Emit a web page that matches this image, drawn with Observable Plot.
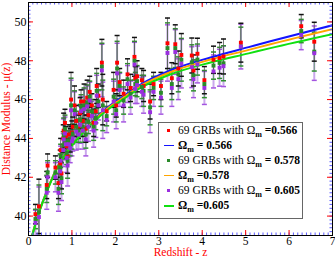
<!DOCTYPE html>
<html><head><meta charset="utf-8">
<script src="https://cdn.jsdelivr.net/npm/d3@7"></script>
<script src="https://cdn.jsdelivr.net/npm/@observablehq/plot@0.6"></script>
<style>
body{margin:0;background:#fff}
#wrap{position:relative;width:335px;height:258px;overflow:hidden}
#legend{position:absolute;left:158px;top:122px;width:145px;height:97px;border:1px solid #666;background:#fff;box-sizing:border-box;font-family:"Liberation Serif",serif;font-size:11.5px;color:#000}
#legend .row{position:absolute;left:0;height:13px;line-height:13px;white-space:nowrap}
#legend .mk{position:absolute;left:5px;width:10px;top:0;height:13px}
#legend .tx{position:absolute;left:19px;top:0}
#legend b{font-weight:bold}
#legend sub{font-size:8px;vertical-align:-3px;font-weight:bold;line-height:0}
</style></head>
<body><div id="wrap"></div>
<script>
// 69 GRBs: redshift and distance moduli for the three calibrations
const grbZ = [0.16,0.24,0.42,0.44,0.62,0.69,0.73,0.74,0.76,0.80,
0.81,0.84,0.86,0.88,0.90,0.93,0.96,0.98,1.00,1.02,
1.06,1.10,1.15,1.19,1.21,1.25,1.28,1.32,1.35,1.38,
1.41,1.46,1.50,1.55,1.57,1.61,1.69,1.71,1.80,1.96,
2.02,2.04,2.10,2.19,2.28,2.35,2.44,2.46,2.50,2.61,
2.65,2.80,2.88,3.05,3.20,3.30,3.38,3.45,3.52,3.76,
3.80,3.89,4.05,4.26,4.40,4.49,4.89,6.28,6.58];
const muRed = [40.1,40.5,41.6,42.6,42.5,41.7,42.7,43.4,42.2,44.0,
44.4,44.8,44.1,43.6,43.1,44.2,43.9,46.0,44.3,44.6,
45.7,44.9,44.6,45.3,45.9,44.9,45.9,44.5,46.1,45.2,
46.4,45.7,44.8,45.4,46.7,46.2,47.9,46.0,45.4,46.5,
45.7,47.9,46.9,46.3,47.3,46.6,48.2,47.1,47.2,47.0,
46.7,45.9,46.8,46.7,48.9,47.1,48.85,47.6,48.3,48.27,
47.5,48.36,47.0,48.05,48.14,48.22,48.93,49.78,48.98];
const errRed = [0.5,1.4,0.7,0.6,0.6,0.8,0.7,0.6,0.8,0.7,
0.9,0.7,0.5,0.6,0.9,0.5,0.6,1.4,0.6,0.5,
1.0,0.8,0.6,0.8,0.6,0.8,0.9,0.7,0.9,0.6,
0.8,0.6,0.7,0.6,0.9,0.6,1.2,1.3,0.5,0.9,
0.6,1.4,0.7,0.7,0.8,0.7,1.0,0.6,0.8,0.6,
0.8,0.9,0.6,0.7,1.3,0.8,1.0,0.9,1.1,0.9,
0.8,0.8,0.7,0.7,0.8,0.9,1.0,0.6,1.0];
const muGreen = [39.85,40.2,41.4,42.25,42.25,41.4,42.5,43.1,41.95,43.65,
44.15,44.5,43.9,43.25,42.85,43.9,43.7,45.7,44.05,44.25,
45.45,44.6,44.4,44.95,45.65,44.6,45.7,44.2,45.85,44.85,
46.15,45.4,44.6,45.05,46.45,45.9,47.7,45.7,45.15,46.15,
45.45,47.6,46.7,45.95,47.05,46.3,48.0,46.8,46.95,46.65,
46.45,45.6,46.6,46.35,48.65,46.8,48.65,47.3,48.05,47.92,
47.25,48.06,46.8,47.75,47.89,47.87,48.73,49.53,48.47];
const muPurple = [39.65,39.95,41.2,42.0,42.0,41.2,42.3,42.85,41.75,43.4,
43.95,44.25,43.7,43.0,42.6,43.7,43.5,45.45,43.85,44.0,
45.25,44.35,44.2,44.7,45.4,44.4,45.5,43.95,45.65,44.6,
45.95,45.15,44.4,44.8,46.2,45.7,47.5,45.45,44.95,45.9,
45.25,47.35,46.5,45.7,46.8,46.1,47.8,46.55,46.75,46.4,
46.25,45.35,46.4,46.1,48.4,46.6,48.45,47.05,47.85,47.67,
47.05,47.81,46.6,47.45,47.64,47.72,48.73,49.32,48.39];
const errPurple = [0.65,1.55,0.85,0.75,0.75,0.95,0.85,0.75,0.95,0.85,
1.05,0.85,0.65,0.75,1.05,0.65,0.75,1.55,0.75,0.65,
1.15,0.95,0.75,0.95,0.75,0.95,1.05,0.85,1.05,0.75,
0.95,0.75,0.85,0.75,1.05,0.75,1.35,1.45,0.65,1.05,
0.75,1.55,0.85,0.85,0.95,0.85,1.15,0.75,0.95,0.75,
0.95,1.05,0.75,0.85,1.45,0.95,1.15,1.05,1.25,1.05,
0.95,0.95,0.85,0.85,0.95,1.05,1.15,0.75,1.4];

// model curves
const curveZ = [0.085,0.215,0.41,0.64,0.87,1.175,1.42,1.885,2.11,2.6,3.26,4.19,5.07,5.57,7];
const muCurve566 = [39.0,40.02,41.22,42.42,43.27,44.15,44.75,45.7,46.05,46.8,47.5,48.17,48.7,49.0,49.83];
const muCurve578 = [39.0,40.01,41.21,42.41,43.26,44.12,44.72,45.65,45.99,46.73,47.41,48.06,48.56,48.85,49.63];
const muCurve605 = [39.0,40.0,41.19,42.38,43.24,44.09,44.67,45.58,45.91,46.63,47.29,47.91,48.38,48.65,49.37];

const xTicks = [0,1,2,3,4,5,6,7];
const yTicks = [40,42,44,46,48,50];
const xMinorTicks = d3.range(0,71).map(i => i/10);
const yMinorTicks = d3.range(0,61).map(i => 39 + i/5);

const grb = grbZ.map((z,i) => ({z, red: muRed[i], er: errRed[i], green: muGreen[i], purple: muPurple[i], ep: errPurple[i]}));
const curves = curveZ.map((z,i) => ({z, b: muCurve566[i], o: muCurve578[i], g: muCurve605[i]}));

const W=335, H=258, mL=28, mR=3, mT=2, mB=23;
const fw = W-mL-mR, fh = H-mT-mB;
const cap = {draw(ctx, size){ const w = Math.sqrt(size/Math.PI); ctx.moveTo(-w,0); ctx.lineTo(w,0); }};

const chart = Plot.plot({
  width:W, height:H, marginLeft:mL, marginRight:mR, marginTop:mT, marginBottom:mB,
  style:{fontFamily:'"Liberation Serif", serif', fontSize:"12px", background:"#fff", color:"#000"},
  x:{domain:[0,7]}, y:{domain:[39,51]},
  marks:[
    Plot.ruleX(grb,{x:"z", y1:d=>d.purple-d.ep, y2:d=>d.purple+d.ep, stroke:"#b482e4", strokeWidth:2, strokeOpacity:0.7, clip:true}),
    Plot.dot(grb,{x:"z", y:d=>d.purple-d.ep, symbol:cap, r:2.5, fill:"none", stroke:"#a455e0", clip:true}),
    Plot.dot(grb,{x:"z", y:d=>d.purple+d.ep, symbol:cap, r:2.5, fill:"none", stroke:"#a455e0", clip:true}),
    Plot.ruleX(grb,{x:"z", y1:d=>d.green-d.er, y2:d=>d.green+d.er, stroke:"#3c9a3c", strokeWidth:1, strokeOpacity:0.7, clip:true}),
    Plot.dot(grb,{x:"z", y:d=>d.green-d.er, symbol:cap, r:2.5, fill:"none", stroke:"#2f8f2f", clip:true}),
    Plot.dot(grb,{x:"z", y:d=>d.green+d.er, symbol:cap, r:2.5, fill:"none", stroke:"#2f8f2f", clip:true}),
    Plot.ruleX(grb,{x:"z", y1:d=>d.red-d.er, y2:d=>d.red+d.er, stroke:"#555", strokeWidth:1, strokeOpacity:0.8, clip:true}),
    Plot.dot(grb,{x:"z", y:d=>d.red-d.er, symbol:cap, r:2.5, fill:"none", stroke:"#111", clip:true}),
    Plot.dot(grb,{x:"z", y:d=>d.red+d.er, symbol:cap, r:2.5, fill:"none", stroke:"#111", clip:true}),
    Plot.line(curves,{x:"z", y:"b", stroke:"#1414ff", strokeWidth:2, curve:"monotone-x", clip:true}),
    Plot.line(curves,{x:"z", y:"o", stroke:"#ffa500", strokeWidth:2, curve:"monotone-x", clip:true}),
    Plot.line(curves,{x:"z", y:"g", stroke:"#10e010", strokeWidth:2, curve:"monotone-x", clip:true}),
    Plot.dot(grb,{x:"z", y:"red", symbol:"square", r:2.2, fill:"#ff0000", clip:true}),
    Plot.dot(grb,{x:"z", y:"green", symbol:"square", r:2.2, fill:"#2a8a2a", clip:true}),
    Plot.dot(grb,{x:"z", y:"purple", symbol:"square", r:2.2, fill:"#9a2ee0", clip:true}),
    Plot.tickX(xMinorTicks,{x:d=>d, insetTop:fh-2.5, stroke:"#5a5aff"}),
    Plot.tickX(xMinorTicks,{x:d=>d, insetBottom:fh-2.5, stroke:"#5a5aff"}),
    Plot.tickY(yMinorTicks,{y:d=>d, insetRight:fw-2.5, stroke:"#5a5aff"}),
    Plot.tickY(yMinorTicks,{y:d=>d, insetLeft:fw-2.5, stroke:"#5a5aff"}),
    Plot.tickX(xTicks,{x:d=>d, insetTop:fh-5, stroke:"#ff0000"}),
    Plot.tickX(xTicks,{x:d=>d, insetBottom:fh-5, stroke:"#ff0000"}),
    Plot.tickY(yTicks,{y:d=>d, insetRight:fw-5, stroke:"#ff0000"}),
    Plot.tickY(yTicks,{y:d=>d, insetLeft:fw-5, stroke:"#ff0000"}),
    Plot.frame({stroke:"#000"}),
    Plot.axisX({ticks:xTicks, tickFormat:d=>String(d), tickSize:0, tickPadding:1, label:null, fontSize:11.5}),
    Plot.axisY({ticks:yTicks, tickFormat:d=>String(d), tickSize:0, tickPadding:2, label:null, fontSize:12}),
    Plot.text(["Redshift - z"],{text:d=>d, frameAnchor:"bottom", dy:20, lineAnchor:"bottom", textAnchor:"middle", fill:"#ff0000", fontSize:11.5}),
    Plot.text(["Distance Modulus - μ(z)"],{text:d=>d, frameAnchor:"left", dx:-22.5, rotate:-90, lineAnchor:"middle", textAnchor:"middle", fill:"#ff0000", fontSize:11.5})
  ]
});
const wrap = document.getElementById("wrap");
wrap.appendChild(chart);

const legendRows = [
  {kind:"dot", color:"#ff0000", html:'69 GRBs with Ω<sub>m</sub> <b>=0.566</b>'},
  {kind:"line", color:"#1414ff", html:'<b>Ω<sub>m</sub> = 0.566</b>'},
  {kind:"dot", color:"#2a8a2a", html:'69 GRBs with Ω<sub>m</sub><b> = 0.578</b>'},
  {kind:"line", color:"#ffa500", html:'<b>Ω<sub>m</sub> =0.578</b>'},
  {kind:"dot", color:"#9a2ee0", html:'69 GRBs with Ω<sub>m</sub><b> = 0.605</b>'},
  {kind:"line", color:"#10e010", html:'<b>Ω<sub>m</sub> =0.605</b>'}
];
const lg = document.createElement("div");
lg.id = "legend";
legendRows.forEach((r,i) => {
  const row = document.createElement("div");
  row.className = "row";
  row.style.top = (11 + 15.1*i - 10.5) + "px";
  const mk = r.kind === "dot"
    ? `<span class="mk"><span style="position:absolute;left:3px;top:5px;width:3px;height:3px;background:${r.color}"></span></span>`
    : `<span class="mk"><span style="position:absolute;left:0;top:6px;width:10px;height:1.5px;background:${r.color}"></span></span>`;
  row.innerHTML = mk + `<span class="tx">${r.html}</span>`;
  lg.appendChild(row);
});
wrap.appendChild(lg);
</script>
</body></html>
